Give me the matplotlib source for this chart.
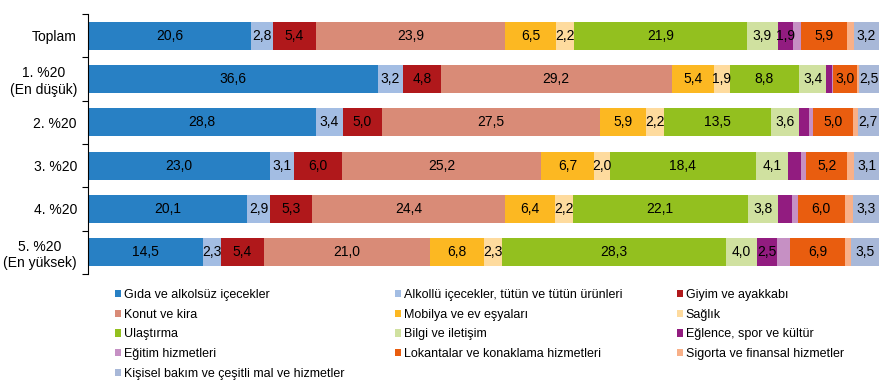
import matplotlib.pyplot as plt
import numpy as np

plt.rcParams['font.family'] = ['Liberation Sans', 'DejaVu Sans']

groups = ["Toplam", "1. %20\n(En düşük)", "2. %20", "3. %20", "4. %20", "5. %20\n(En yüksek)"]

categories = [
    "Gıda ve alkolsüz içecekler",
    "Alkollü içecekler, tütün ve tütün ürünleri",
    "Giyim ve ayakkabı",
    "Konut ve kira",
    "Mobilya ve ev eşyaları",
    "Sağlık",
    "Ulaştırma",
    "Bilgi ve iletişim",
    "Eğlence, spor ve kültür",
    "Eğitim hizmetleri",
    "Lokantalar ve konaklama hizmetleri",
    "Sigorta ve finansal hizmetler",
    "Kişisel bakım ve çeşitli mal ve hizmetler",
]

# one list per category, values for each group (Toplam, 1..5 %20)
gida = [20.6, 36.6, 28.8, 23.0, 20.1, 14.5]
alkollu = [2.8, 3.2, 3.4, 3.1, 2.9, 2.3]
giyim = [5.4, 4.8, 5.0, 6.0, 5.3, 5.4]
konut = [23.9, 29.2, 27.5, 25.2, 24.4, 21.0]
mobilya = [6.5, 5.4, 5.9, 6.7, 6.4, 6.8]
saglik = [2.2, 1.9, 2.2, 2.0, 2.2, 2.3]
ulastirma = [21.9, 8.8, 13.5, 18.4, 22.1, 28.3]
bilgi = [3.9, 3.4, 3.6, 4.1, 3.8, 4.0]
eglence = [1.9, 0.7, 1.3, 1.7, 1.8, 2.5]
egitim = [1.0, 0.2, 0.5, 0.6, 0.7, 1.7]
lokanta = [5.9, 3.0, 5.0, 5.2, 6.0, 6.9]
sigorta = [0.8, 0.3, 0.6, 0.9, 1.0, 0.8]
kisisel = [3.2, 2.5, 2.7, 3.1, 3.3, 3.5]

series = [gida, alkollu, giyim, konut, mobilya, saglik, ulastirma,
          bilgi, eglence, egitim, lokanta, sigorta, kisisel]

colors = ["#2880C4", "#A3BDE3", "#B0181B", "#D98B77", "#FCB822", "#FEDB9E",
          "#93C01F", "#D0E1A0", "#921C80", "#C690C4", "#E95D0F", "#F8B088",
          "#A8B8D8"]

fig = plt.figure(figsize=(8.82, 3.87), dpi=100)
ax = fig.add_axes([0.0998, 0.292, 0.8968, 0.672])

y = np.arange(len(groups))
left = np.zeros(len(groups))
handles = []
for name, vals, col in zip(categories, series, colors):
    vals = np.array(vals)
    bars = ax.barh(y, vals, left=left, height=0.65, color=col, label=name)
    handles.append(bars)
    for yi, (l, v) in enumerate(zip(left, vals)):
        if v >= 1.85:
            ax.text(l + v / 2, yi, f"{v:.1f}".replace(".", ","),
                    ha="center", va="center", fontsize=10, color="black")
    left += vals

ax.set_xlim(0, 100)
ax.set_ylim(len(groups) - 0.5, -0.5)
ax.set_yticks(y)
ax.set_yticklabels(groups, fontsize=10, multialignment="center")
ax.tick_params(axis="y", which="major", length=0, pad=8)
ax.set_yticks(np.arange(-0.5, len(groups), 1), minor=True)
ax.tick_params(axis="y", which="minor", length=4.5, width=0.8, direction="out")
ax.set_xticks([])
for s in ["top", "right", "bottom"]:
    ax.spines[s].set_visible(False)
ax.spines["left"].set_linewidth(0.8)

# legend is filled row by row in three columns
col_x = [0.1304, 0.4478, 0.7676]
for c, x0 in enumerate(col_x):
    idx = list(range(c, len(categories), 3))
    fig.legend([handles[i] for i in idx], [categories[i] for i in idx],
               loc="upper left", bbox_to_anchor=(x0, 0.254),
               frameon=False, fontsize=9, handlelength=0.5, handleheight=0.5,
               handletextpad=0.2, labelspacing=0.63,
               borderpad=0, borderaxespad=0)

fig.savefig("out.png", dpi=100)
